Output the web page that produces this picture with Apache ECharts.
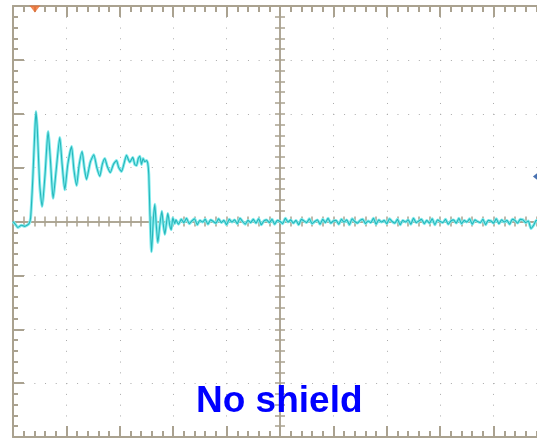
<!DOCTYPE html>
<html><head><meta charset="utf-8">
<script src="https://cdn.jsdelivr.net/npm/echarts@6/dist/echarts.min.js"></script>
<style>html,body{margin:0;padding:0;background:#fff}#c{width:537px;height:438px}</style>
</head><body><div id="c"></div>
<script>
// Screen: 10 horizontal divisions (time, -5..5) by 8 vertical divisions (-4..4)
const xDivRange = [-5, 5];
const yDivRange = [-4, 4];

// Transient: ringing pulse after the step, then the fall and its ringing
const pulseT = [
  -5.00, -4.95, -4.91, -4.84, -4.78, -4.70, -4.67, -4.63, -4.59, -4.57,
  -4.545, -4.50, -4.455, -4.40, -4.343, -4.30, -4.249, -4.19, -4.124, -4.08,
  -4.03, -3.974, -3.904, -3.86, -3.81, -3.76, -3.706, -3.665, -3.624, -3.553,
  -3.487, -3.43, -3.375, -3.328, -3.281, -3.234, -3.178, -3.12, -3.062, -3.02,
  -2.968, -2.925, -2.875, -2.84, -2.813, -2.757, -2.72, -2.687, -2.654, -2.625,
  -2.594, -2.564, -2.532, -2.50, -2.476, -2.457, -2.438, -2.406, -2.372, -2.345,
  -2.317, -2.288, -2.25, -2.213, -2.185, -2.157, -2.13, -2.101, -2.064, -2.036,
  -2.007, -1.97];
const pulseV = [
  0.00, -0.06, -0.11, -0.07, -0.09, -0.04, 0.07, 0.78, 1.71, 2.04,
  1.71, 0.69, 0.28, 0.87, 1.67, 1.15, 0.43, 0.97, 1.56, 1.06,
  0.59, 1.06, 1.39, 0.97, 0.67, 1.06, 1.30, 1.00, 0.78, 1.10,
  1.24, 1.00, 0.84, 1.06, 1.17, 1.02, 0.91, 1.06, 1.13, 1.00,
  0.93, 1.06, 1.23, 1.15, 1.10, 1.19, 1.06, 1.04, 1.17, 1.21,
  1.06, 1.17, 1.11, 1.13, 1.08, 0.87, 0.22, -0.56, 0.04, 0.32,
  -0.06, -0.39, -0.06, 0.19, -0.06, -0.24, -0.06, 0.15, -0.07, -0.15,
  0.07, -0.04];

// Settled baseline noise, sampled every 0.05 div from -1.95
const noiseStart = -1.95;
const noiseStep = 0.05;
const noiseV = [
  0.03,-0.05,0.04,-0.02,0.06,-0.04,0.01,0.05,-0.06,0.02,
  -0.01,0.04,-0.05,0.03,0.00,-0.03,0.05,-0.02,0.02,-0.06,
  0.04,-0.01,0.03,-0.04,0.06,0.00,-0.05,0.02,-0.02,0.04,
  -0.03,0.05,-0.06,0.01,0.03,-0.02,0.04,-0.05,0.02,0.00,
  -0.04,0.06,-0.01,0.03,-0.03,0.02,-0.06,0.04,0.01,-0.02,
  0.05,-0.04,0.00,0.03,-0.05,0.04,-0.02,0.06,-0.03,0.01,
  0.02,-0.05,0.04,-0.01,0.03,-0.06,0.05,0.00,-0.03,0.02,
  0.04,-0.04,0.01,-0.02,0.06,-0.05,0.03,-0.01,0.02,-0.04,
  0.05,0.00,-0.03,0.04,-0.06,0.02,-0.01,0.03,-0.05,0.06,
  -0.02,0.01,0.04,-0.04,0.02,-0.03,0.05,-0.06,0.03,0.00,
  -0.02,0.04,-0.05,0.01,0.03,-0.03,0.06,-0.04,0.02,-0.01,
  0.05,-0.05,0.03,0.00,-0.02,0.04,-0.06,0.02,0.01,-0.03,
  0.05,-0.04,0.03,-0.01,0.02,-0.05,0.04,0.02,-0.03,0.04,
  0.03,-0.02,0.01,-0.13,-0.07,0.02,-0.01
];

// Trigger position (top) and trigger level (right edge) indicators
const triggerPos = [-4.59, 4];
const triggerLevel = [4.83, 0.835];

const caption = 'No shield';

const trace = pulseT.map((t, i) => [t, pulseV[i]]);
noiseV.forEach((v, i) => trace.push([+(noiseStart + i * noiseStep).toFixed(3), v]));

const frame = '#aaa290';
const dots = '#aaaaaa';

function hiddenLabel() { return { show: false }; }

const chart = echarts.init(document.getElementById('c'), null, { renderer: 'canvas' });
chart.setOption({
  animation: false,
  backgroundColor: '#ffffff',
  // the screen is wider than the window: its right edge runs past the canvas
  grid: { left: 13, top: 6, width: 534, height: 431, containLabel: false, outerBoundsMode: 'none' },
  xAxis: [
    { type: 'value', min: xDivRange[0], max: xDivRange[1], interval: 1, position: 'bottom',
      axisLine: { onZero: false, lineStyle: { color: frame, width: 2 } },
      axisTick: { inside: true, length: 11, lineStyle: { color: frame, width: 2 } },
      minorTick: { show: true, splitNumber: 5, length: 6, lineStyle: { color: frame, width: 2 } },
      splitLine: { show: true, lineStyle: { color: dots, width: 1, type: [1, 9.775] } },
      axisLabel: hiddenLabel() },
    { type: 'value', min: xDivRange[0], max: xDivRange[1], interval: 1, position: 'top',
      axisLine: { onZero: false, lineStyle: { color: frame, width: 2 } },
      axisTick: { inside: true, length: 11, lineStyle: { color: frame, width: 2 } },
      minorTick: { show: true, splitNumber: 5, length: 6, lineStyle: { color: frame, width: 2 } },
      splitLine: { show: false }, axisLabel: hiddenLabel() },
    { type: 'value', min: xDivRange[0], max: xDivRange[1], interval: 1, position: 'bottom',
      axisLine: { onZero: true, onZeroAxisIndex: 0, lineStyle: { color: frame, width: 1.5 } },
      axisTick: { inside: true, length: 5, lineStyle: { color: frame, width: 1.5 } },
      minorTick: { show: true, splitNumber: 5, length: 5, lineStyle: { color: frame, width: 1.5 } },
      splitLine: { show: false }, axisLabel: hiddenLabel() },
    { type: 'value', min: xDivRange[0], max: xDivRange[1], interval: 1, position: 'bottom',
      axisLine: { onZero: true, onZeroAxisIndex: 0, lineStyle: { color: frame, width: 1.5 } },
      axisTick: { inside: false, length: 5, lineStyle: { color: frame, width: 1.5 } },
      minorTick: { show: true, splitNumber: 5, length: 5, lineStyle: { color: frame, width: 1.5 } },
      splitLine: { show: false }, axisLabel: hiddenLabel() }
  ],
  yAxis: [
    { type: 'value', min: yDivRange[0], max: yDivRange[1], interval: 1, position: 'left',
      axisLine: { show: true, onZero: false, lineStyle: { color: frame, width: 2 } },
      axisTick: { show: true, inside: true, length: 11, lineStyle: { color: frame, width: 2 } },
      minorTick: { show: true, splitNumber: 5, length: 5, lineStyle: { color: frame, width: 2 } },
      splitLine: { show: true, lineStyle: { color: dots, width: 1, type: [1, 9.68] } },
      axisLabel: hiddenLabel() },
    { type: 'value', min: yDivRange[0], max: yDivRange[1], interval: 1, position: 'left',
      axisLine: { show: true, onZero: true, onZeroAxisIndex: 0, lineStyle: { color: frame, width: 1.5 } },
      axisTick: { show: true, inside: true, length: 5, lineStyle: { color: frame, width: 1.5 } },
      minorTick: { show: true, splitNumber: 5, length: 5, lineStyle: { color: frame, width: 1.5 } },
      splitLine: { show: false }, axisLabel: hiddenLabel() },
    { type: 'value', min: yDivRange[0], max: yDivRange[1], interval: 1, position: 'left',
      axisLine: { show: true, onZero: true, onZeroAxisIndex: 0, lineStyle: { color: frame, width: 1.5 } },
      axisTick: { show: true, inside: false, length: 5, lineStyle: { color: frame, width: 1.5 } },
      minorTick: { show: true, splitNumber: 5, length: 5, lineStyle: { color: frame, width: 1.5 } },
      splitLine: { show: false }, axisLabel: hiddenLabel() }
  ],
  series: [
    { type: 'line', data: trace, showSymbol: false, symbol: 'none', z: 3, smooth: 0.2,
      lineStyle: { color: '#86ecee', width: 3 } },
    { type: 'line', data: trace, showSymbol: false, symbol: 'none', z: 4, smooth: 0.2,
      lineStyle: { color: '#26b6ba', width: 1.1 } },
    { type: 'scatter', data: [triggerPos], symbol: 'triangle', symbolRotate: 180,
      symbolSize: [11, 7], symbolOffset: [0, 3], clip: false, z: 6,
      itemStyle: { color: '#f06a28' } },
    { type: 'scatter', data: [triggerLevel], symbol: 'diamond',
      symbolSize: [10, 8], clip: false, z: 6,
      itemStyle: { color: '#1c4f9e' } }
  ],
  graphic: [
    { type: 'text', left: 196, top: 383, z: 10,
      style: { text: caption, fill: '#0000ff',
        font: 'bold 37px "Liberation Sans", Arial, sans-serif' } }
  ]
});
</script></body></html>
